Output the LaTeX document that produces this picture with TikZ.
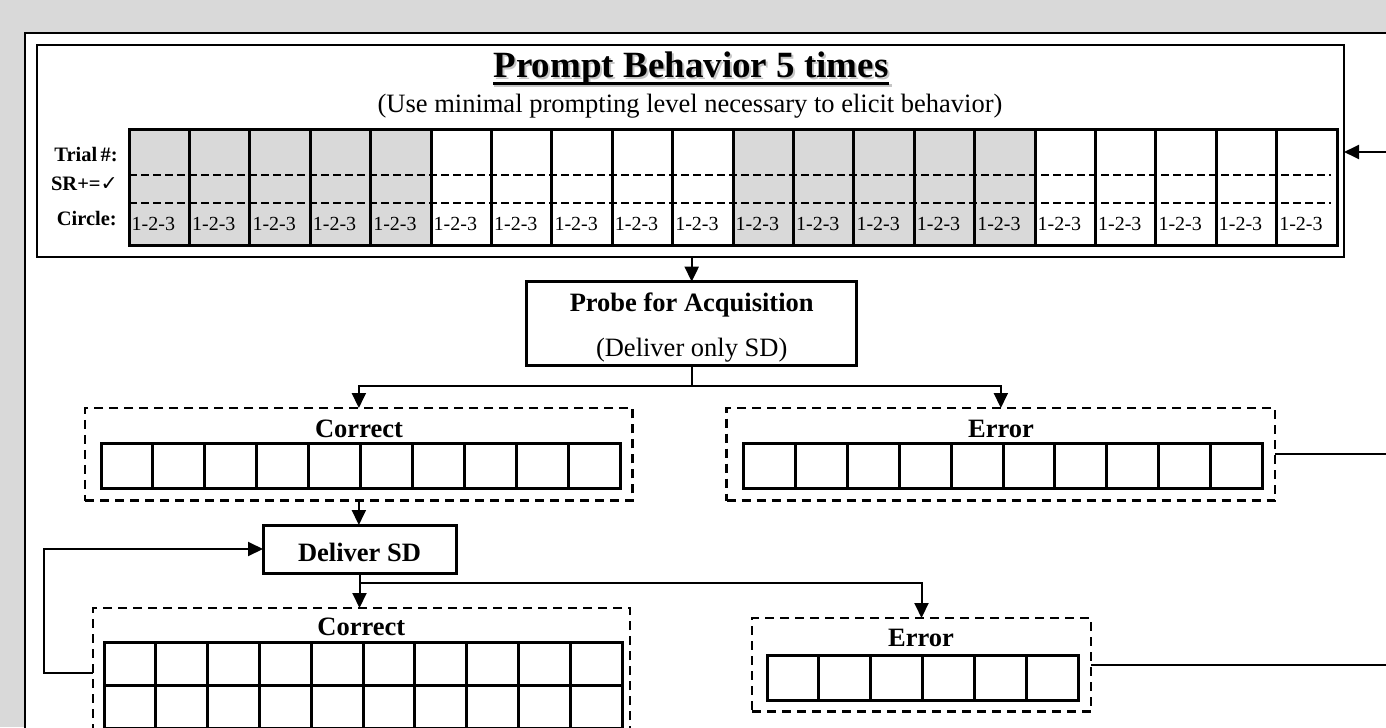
\documentclass[tikz,border=0pt]{standalone}
\usepackage{fontspec}
\setmainfont{Liberation Serif}
\newfontfamily\dejavu{DejaVu Sans}
\usetikzlibrary{arrows.meta}
\definecolor{bggray}{RGB}{217,217,217}
\definecolor{cellgray}{RGB}{217,217,217}
\tikzset{
  framebox/.style={draw, fill=white, line width=2bp, inner sep=0pt, outer sep=0pt, anchor=north west},
  topboxst/.style={draw, line width=2.5bp, inner sep=0pt, outer sep=0pt, anchor=north west},
  solidbox/.style={draw, fill=white, line width=3bp, inner sep=0pt, outer sep=0pt, anchor=north west},
  dbox/.style={draw, line width=2.5bp, dash pattern=on 9bp off 6bp, inner sep=0pt, outer sep=0pt, anchor=north west},
  cellrow/.style={draw, line width=3bp, inner sep=0pt, outer sep=0pt, anchor=north west},
  cellline/.style={line width=3bp},
  gdash/.style={line width=2bp, dash pattern=on 8bp off 4bp},
  conn/.style={line width=2bp},
  arr/.style={line width=2bp, -{Triangle[length=15bp,width=14bp]}},
  bigtxt/.style={font=\fontsize{26.5bp}{30bp}\selectfont\bfseries, inner sep=0pt},
  regtxt/.style={font=\fontsize{26.5bp}{30bp}\selectfont, inner sep=0pt},
  titletxt/.style={font=\fontsize{37bp}{42bp}\selectfont\bfseries, inner sep=0pt},
  lbltxt/.style={font=\fontsize{20.5bp}{24bp}\selectfont\bfseries, inner sep=0pt, anchor=base east},
  numtxt/.style={font=\fontsize{20bp}{24bp}\selectfont, inner sep=0pt, anchor=base west},
}
\begin{document}
\begin{tikzpicture}[x=1bp,y=-1bp]
\useasboundingbox (0,0) rectangle (1386,727);
\clip (0,0) rectangle (1386,727);
\fill[bggray] (0,0) rectangle (1386,727);
% outer frame
\node[framebox, minimum width=1420bp, minimum height=800bp] (frame) at (25,33) {};
% top box
\node[topboxst, minimum width=1307bp, minimum height=212bp] (topbox) at (37,45) {};
% title with shadow
\node[titletxt, text=gray!45, anchor=base] (titleshadow) at (693,80) {Prompt Behavior 5 times};
\draw[gray!45, line width=3bp] (494,86) -- (892,86);
\node[titletxt, anchor=base] (title) at (691,78) {Prompt Behavior 5 times};
\draw[line width=3bp] (title.base west |- 0,84) -- (title.base east |- 0,84);
\node[regtxt, anchor=base] (subtitle) at (690,113) {(Use minimal prompting level necessary to elicit behavior)};
% trial grid
\foreach \i in {0,1,2,3,4,10,11,12,13,14} \fill[cellgray] ({129+\i*60.4},129) rectangle ++(60.4,116);
\draw[gdash] (129,175) -- (1331,175);
\draw[gdash] (129,203) -- (1331,203);
\foreach \i in {1,...,19} \draw[cellline] ({129+\i*60.4},129) -- ++(0,116);
\foreach \i in {0,...,19} \node[numtxt] (num\i) at ({131.5+\i*60.4},230) {1-2-3};
\node[cellrow, minimum width=1208bp, minimum height=116bp] (trialgrid) at (129,129) {};
\node[lbltxt] (ltrial) at (118,161) {Trial\,\#:};
\node[lbltxt] (lsr) at (118,190) {SR+={\dejavu\bfseries ✓}};
\node[lbltxt] (lcircle) at (117,225) {Circle:};
% probe
\node[solidbox, minimum width=330bp, minimum height=83.5bp] (probe) at (526.7,281.7) {};
\node[bigtxt, anchor=base] (probet1) at (691.7,311.7) {Probe for Acquisition};
\node[regtxt, anchor=base] (probet2) at (691.7,356.5) {(Deliver only SD)};
% correct 1
\node[dbox, minimum width=547.7bp, minimum height=92.7bp] (c1) at (85,408) {};
\node[bigtxt, anchor=base] (c1lab) at (359,437) {Correct};
\foreach \i in {1,...,9} \draw[cellline] ({101+\i*51.9},443) -- ++(0,45);
\node[cellrow, minimum width=519bp, minimum height=45bp] (c1row) at (101,443) {};
% error 1
\node[dbox, minimum width=548.3bp, minimum height=92.7bp] (e1) at (726.7,408) {};
\node[bigtxt, anchor=base] (e1lab) at (1001,437) {Error};
\foreach \i in {1,...,9} \draw[cellline] ({743.3+\i*51.94},443) -- ++(0,45);
\node[cellrow, minimum width=519.4bp, minimum height=45bp] (e1row) at (743.3,443) {};
% deliver SD
\node[solidbox, minimum width=193bp, minimum height=48bp] (deliver) at (263,525) {};
\node[bigtxt, anchor=base] (delivert) at (359.5,561.5) {Deliver SD};
% correct 2
\node[dbox, minimum width=537bp, minimum height=160bp] (c2) at (93,608) {};
\node[bigtxt, anchor=base] (c2lab) at (361.3,635) {Correct};
\foreach \i in {1,...,9} \draw[cellline] ({104+\i*51.8},642) -- ++(0,130);
\draw[cellline] (104,685) -- (622,685);
\draw[cellline] (104,728) -- (622,728);
\node[cellrow, minimum width=518bp, minimum height=130bp] (c2grid) at (104,642) {};
% error 2
\node[dbox, minimum width=339bp, minimum height=93.7bp] (e2) at (752,618) {};
\node[bigtxt, anchor=base] (e2lab) at (921,646.5) {Error};
\foreach \i in {1,...,5} \draw[cellline] ({767+\i*51.85},655) -- ++(0,45);
\node[cellrow, minimum width=311bp, minimum height=45bp] (e2row) at (767,655) {};
% connectors
\coordinate (rin) at (1386,152);
\coordinate (rout1) at (1386,454);
\coordinate (rout2) at (1386,665.5);
\coordinate (b1) at (0,386);
\coordinate (b2) at (0,582.5);
\coordinate (lp) at (44,673);
\draw[arr] (rin) -- (rin -| topbox.east);
\draw[arr] (probe.north |- topbox.south) -- (probe.north);
\draw[arr] (probe.south) -- (probe.south |- b1) -| (c1.north);
\draw[arr] (probe.south |- b1) -| (e1.north);
\draw[conn] (e1.east) -- (e1.east -| rout1);
\draw[arr] (c1.north |- c1.south) -- (c1.north |- deliver.north);
\draw[arr] (deliver.south) -- (deliver.south |- c2.north);
\draw[arr] (deliver.south |- b2) -| (e2.north);
\draw[conn] (e2.east) -- (e2.east -| rout2);
\draw[arr] (c2.west |- lp) -- (lp) |- (deliver.west);
\end{tikzpicture}
\end{document}
